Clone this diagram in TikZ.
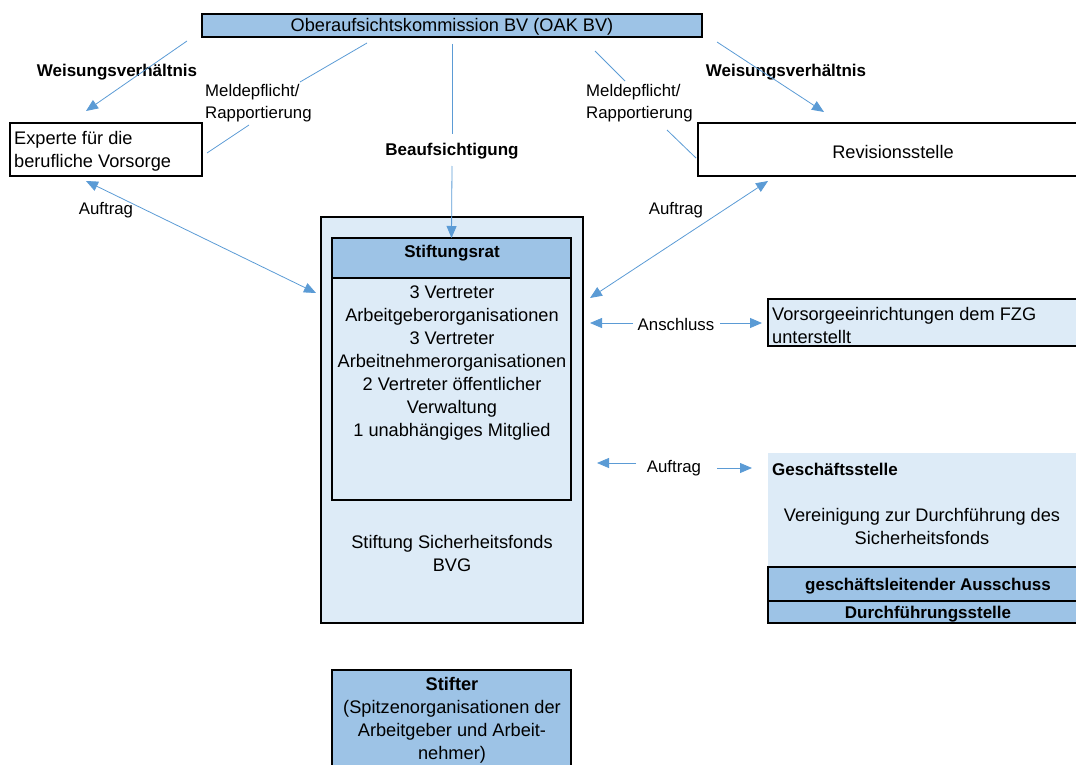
\documentclass[tikz,border=0pt]{standalone}
\usepackage{fontspec}
\setmainfont{Liberation Sans}
\usetikzlibrary{arrows.meta}
\definecolor{midblue}{HTML}{9DC3E6}
\definecolor{lightblue}{HTML}{DDEBF7}
\definecolor{arrowblue}{HTML}{5B9BD5}
\begin{document}
\begin{tikzpicture}[x=1pt,y=-1pt,
  box/.style={draw=black, line width=1.4pt, inner sep=0pt, outer sep=0pt, anchor=north west},
  conn/.style={draw=arrowblue, line width=0.8pt},
  tip/.style={-{Triangle[length=12pt,width=10pt]}},
  dtip/.style={{Triangle[length=12pt,width=10pt]}-{Triangle[length=12pt,width=10pt]}},
  lab/.style={font=\fontsize{16.8}{22}\selectfont, inner sep=0pt},
  blab/.style={font=\bfseries\fontsize{17}{22}\selectfont, inner sep=0pt},
  txt/.style={font=\fontsize{18.2}{23}\selectfont, inner sep=0pt, align=center},
  ltxt/.style={font=\fontsize{18.2}{23}\selectfont, inner sep=0pt, align=left, anchor=west},
]
\useasboundingbox (0,0) rectangle (1076,765);
\clip (0,0) rectangle (1076,765);

% boxes
\node[box, fill=midblue, minimum width=500pt, minimum height=23pt] (oak) at (202,14) {};
\node[txt] (oaktxt) at (452,27) {Oberaufsichtskommission BV (OAK BV)};
\node[box, fill=white, minimum width=192pt, minimum height=53pt] (exp) at (10,123) {};
\node[ltxt] (exptxt) at (14,151.5) {Experte für die\\berufliche Vorsorge};
\node[box, fill=white, minimum width=390pt, minimum height=53pt] (rev) at (698,123) {};
\node[txt] (revtxt) at (893,151.5) {Revisionsstelle};

\node[box, fill=lightblue, minimum width=262pt, minimum height=406pt] (stift) at (321,217) {};
\node[box, fill=midblue, minimum width=239pt, minimum height=40pt] (rathead) at (332,238) {};
\node[blab] (rattitle) at (452,253) {Stiftungsrat};
\node[box, minimum width=239pt, minimum height=222pt] (ratbody) at (332,278) {};
\node[txt] (rattxt) at (452,363.5) {3 Vertreter\\Arbeitgeberorganisationen\\3 Vertreter\\Arbeitnehmerorganisationen\\2 Vertreter öffentlicher\\Verwaltung\\1 unabhängiges Mitglied};
\node[txt] (stifttxt) at (452,553.5) {Stiftung Sicherheitsfonds\\BVG};

\node[box, fill=midblue, minimum width=239pt, minimum height=100pt] (stifter) at (332,670) {};
\node[txt] (stiftertxt) at (452,720) {\textbf{Stifter}\\(Spitzenorganisationen der\\Arbeitgeber und Arbeit-\\nehmer)};

\node[box, fill=lightblue, minimum width=320pt, minimum height=47pt] (vors) at (768,299) {};
\node[ltxt] (vorstxt) at (772,325) {Vorsorgeeinrichtungen dem FZG\\unterstellt};

\node[box, draw=none, fill=lightblue, minimum width=320pt, minimum height=114pt] (gs) at (768,453) {};
\node[blab, anchor=west] (gstitle) at (772,469) {Geschäftsstelle};
\node[txt] (gstxt) at (922,526.5) {Vereinigung zur Durchführung des\\Sicherheitsfonds};
\node[box, fill=midblue, minimum width=320pt, minimum height=34pt] (ga) at (768,567) {};
\node[blab] (gatxt) at (928,586) {geschäftsleitender Ausschuss};
\node[box, fill=midblue, minimum width=320pt, minimum height=22pt] (ds) at (768,601) {};
\node[blab] (dstxt) at (928,614) {Durchführungsstelle};

% coordinates for free connector ends
\coordinate (wl1) at (187,41);
\coordinate (wl2) at (86,111);
\coordinate (ml1) at (367,43);
\coordinate (ml2) at (300,82);
\coordinate (ml3) at (249,125);
\coordinate (ml4) at (207,153);
\coordinate (b1) at (452,44);
\coordinate (b2) at (452,134);
\coordinate (b3) at (452,166);
\coordinate (wr1) at (717,42);
\coordinate (wr2) at (824,112);
\coordinate (mr1) at (595,51);
\coordinate (mr2) at (625,81);
\coordinate (mr3) at (667,130);
\coordinate (mr4) at (696,158);
\coordinate (al1) at (86,181);
\coordinate (al2) at (316,293);
\coordinate (ar1) at (590,298);
\coordinate (ar2) at (768,181);
\coordinate (an1) at (633,323);
\coordinate (an2) at (590,323);
\coordinate (an3) at (720,323);
\coordinate (an4) at (762,323);
\coordinate (am1) at (636,463);
\coordinate (am2) at (597,463);
\coordinate (am3) at (717,468);
\coordinate (am4) at (752,468);

% labels
\node[blab] (wllab) at (117,72) {Weisungsverhältnis};
\node[lab, anchor=west, align=left] (mllab) at (205,103) {Meldepflicht/\\Rapportierung};
\node[blab] (blab) at (452,151) {Beaufsichtigung};
\node[blab] (wrlab) at (786,72) {Weisungsverhältnis};
\node[lab, anchor=west, align=left] (mrlab) at (586,103) {Meldepflicht/\\Rapportierung};
\node[lab] (allab) at (106,210) {Auftrag};
\node[lab] (arlab) at (676,210) {Auftrag};
\node[lab] (anlab) at (676,324) {Anschluss};
\node[lab] (amlab) at (674,468) {Auftrag};

% connectors
\draw[conn,tip] (wl1) -- (wl2);
\draw[conn] (ml1) -- (ml2);
\draw[conn] (ml3) -- (ml4);
\draw[conn] (b1) -- (b2);
\draw[conn,tip] (b3) -- (rathead.north);
\draw[conn,tip] (wr1) -- (wr2);
\draw[conn] (mr1) -- (mr2);
\draw[conn] (mr3) -- (mr4);
\draw[conn,dtip] (al1) -- (al2);
\draw[conn,dtip] (ar1) -- (ar2);
\draw[conn,tip] (an1) -- (an2);
\draw[conn,tip] (an3) -- (an4);
\draw[conn,tip] (am1) -- (am2);
\draw[conn,tip] (am3) -- (am4);
\end{tikzpicture}
\end{document}
